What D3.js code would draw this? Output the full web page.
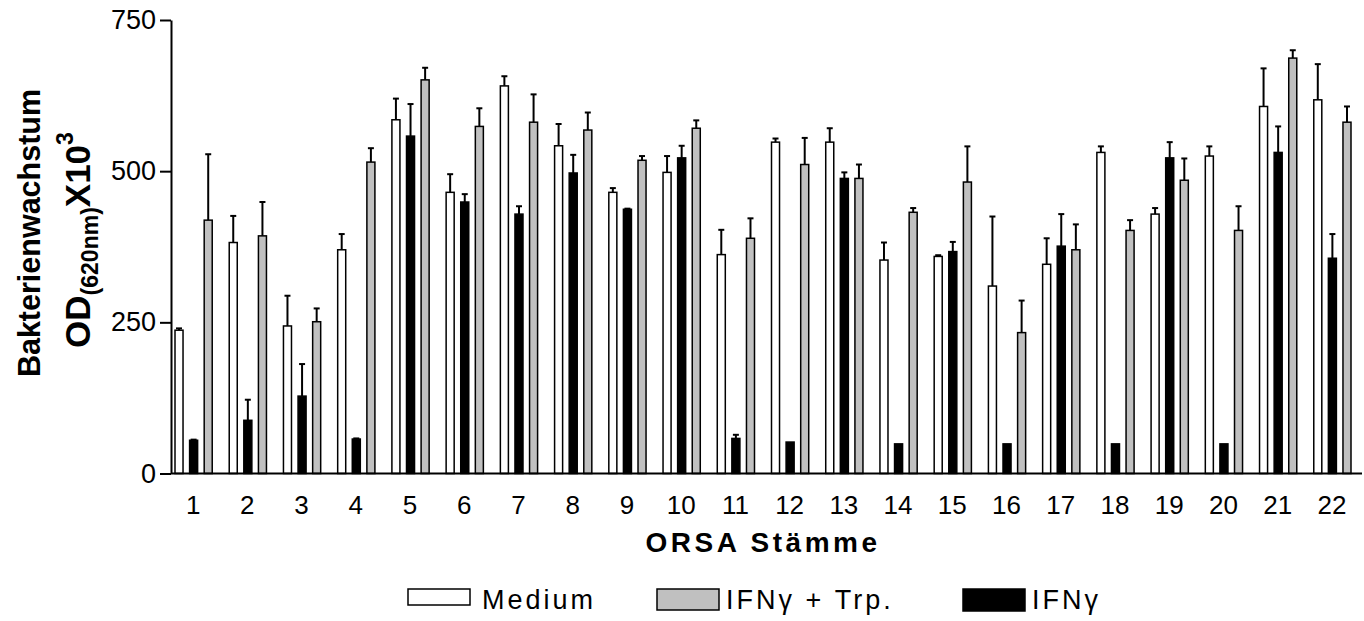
<!DOCTYPE html>
<html>
<head>
<meta charset="utf-8">
<script src="https://cdn.jsdelivr.net/npm/d3@7"></script>
<style>
  html, body { margin: 0; padding: 0; background: #fff; }
  svg { display: block; font-family: "Liberation Sans", Arial, sans-serif; }
</style>
</head>
<body>
<svg id="chart" width="1364" height="621"></svg>
<script>
// ORSA strains 1..22
const strains = ["1","2","3","4","5","6","7","8","9","10","11","12","13","14","15","16","17","18","19","20","21","22"];

// Bacterial growth, OD(620nm) x 10^3 — means
const medium  = [237, 382, 244, 370, 585, 465, 641, 542, 465, 498, 362, 548, 548, 353, 359, 310, 346, 531, 429, 525, 607, 618];
const ifng    = [55, 88, 128, 57, 558, 449, 429, 497, 437, 522, 58, 52, 488, 49, 367, 49, 376, 49, 522, 49, 531, 356];
const ifngTrp = [419, 393, 251, 515, 651, 574, 581, 568, 518, 571, 389, 511, 488, 432, 482, 233, 370, 402, 485, 402, 687, 581];

// Standard deviations (upper error bars)
const mediumErr  = [3, 44, 50, 26, 35, 30, 16, 36, 7, 27, 41, 6, 23, 29, 2, 115, 43, 10, 10, 16, 63, 59];
const ifngErr    = [1, 34, 53, 1, 53, 13, 13, 30, 1, 20, 6, 0, 10, 0, 16, 0, 53, 0, 26, 0, 43, 40];
const ifngTrpErr = [109, 56, 22, 23, 20, 30, 46, 29, 7, 13, 33, 44, 23, 7, 59, 53, 42, 17, 36, 40, 13, 26];

const yTicks = [0, 250, 500, 750];

// Bars in each group: Medium, IFNγ, IFNγ + Trp.
const series = [
  { key: "medium",  label: "Medium",      values: medium,  errs: mediumErr,  fill: "#ffffff" },
  { key: "ifng",    label: "IFNγ",        values: ifng,    errs: ifngErr,    fill: "#000000" },
  { key: "ifngTrp", label: "IFNγ + Trp.", values: ifngTrp, errs: ifngTrpErr, fill: "#c0c0c0" }
];
const legendOrder = ["medium", "ifngTrp", "ifng"];

const svg = d3.select("#chart");
const FONT = "\"Liberation Sans\", Arial, sans-serif";

const plot = { left: 171, right: 1362, top: 20, bottom: 473.5 };

const y = d3.scaleLinear().domain([0, 750]).range([plot.bottom, plot.top]);
const x = d3.scaleBand().domain(strains).range([166, 1359]).paddingInner(0).paddingOuter(0);
const xs = d3.scaleBand().domain(series.map(s => s.key))
  .range([9, x.bandwidth() - 8]).paddingInner(0.45).paddingOuter(0);

// Bars
const groups = svg.append("g").selectAll("g")
  .data(strains)
  .join("g")
  .attr("transform", d => `translate(${x(d)},0)`);

groups.each(function(strain, i) {
  const g = d3.select(this);
  series.forEach(s => {
    const v = s.values[i], e = s.errs[i];
    const bx = xs(s.key), bw = xs.bandwidth();
    const cx = bx + bw / 2;
    if (e > 0) {
      g.append("line")
        .attr("x1", cx).attr("x2", cx)
        .attr("y1", y(v)).attr("y2", y(v + e))
        .attr("stroke", "#000").attr("stroke-width", 2);
      g.append("line")
        .attr("x1", cx - 3).attr("x2", cx + 3)
        .attr("y1", y(v + e)).attr("y2", y(v + e))
        .attr("stroke", "#000").attr("stroke-width", 2);
    }
    g.append("rect")
      .attr("x", bx).attr("width", bw)
      .attr("y", y(v)).attr("height", y(0) - y(v))
      .attr("fill", s.fill)
      .attr("stroke", "#000").attr("stroke-width", 1.5);
  });
});

// Y axis
const yAxis = svg.append("g")
  .attr("transform", `translate(${plot.left},0)`)
  .call(d3.axisLeft(y).tickValues(yTicks).tickSize(11).tickSizeOuter(0).tickPadding(4));
yAxis.select(".domain").attr("stroke-width", 2);
yAxis.selectAll(".tick line").attr("stroke-width", 2);
yAxis.selectAll(".tick text")
  .attr("font-family", FONT).attr("font-size", 27).attr("fill", "#000");

// X axis baseline and strain labels
svg.append("line")
  .attr("x1", plot.left).attr("x2", plot.right)
  .attr("y1", y(0)).attr("y2", y(0))
  .attr("stroke", "#000").attr("stroke-width", 2);

const xAxis = svg.append("g")
  .attr("transform", `translate(0,${y(0)})`)
  .call(d3.axisBottom(x).tickSize(0).tickPadding(22));
xAxis.select(".domain").remove();
xAxis.selectAll(".tick text")
  .attr("font-family", FONT).attr("font-size", 26).attr("fill", "#000");

// X axis title
svg.append("text")
  .attr("x", 763).attr("y", 552)
  .attr("text-anchor", "middle")
  .attr("font-family", FONT).attr("font-size", 28).attr("font-weight", "bold")
  .attr("letter-spacing", 3.5)
  .text("ORSA Stämme");

// Y axis title (two lines)
svg.append("text")
  .attr("transform", "translate(40,233) rotate(-90)")
  .attr("text-anchor", "middle")
  .attr("font-family", FONT).attr("font-size", 30.5).attr("font-weight", "bold")
  .text("Bakterienwachstum");

const od = svg.append("text")
  .attr("transform", "translate(90,240) rotate(-90)")
  .attr("text-anchor", "middle")
  .attr("font-family", FONT).attr("font-size", 35).attr("font-weight", "bold");
od.append("tspan").text("OD");
od.append("tspan").attr("font-size", 23).attr("dy", 8).text("(620nm)");
od.append("tspan").attr("dy", -8).text("X10");
od.append("tspan").attr("font-size", 23).attr("dy", -17).text("3");

// Legend
const legendPos = {
  medium:  { x: 408, h: 16, tx: 482 },
  ifngTrp: { x: 657, h: 21, tx: 726 },
  ifng:    { x: 963, h: 22, tx: 1032 }
};
const legend = svg.append("g");
legendOrder.forEach(k => {
  const s = series.find(d => d.key === k);
  const p = legendPos[k];
  legend.append("rect")
    .attr("x", p.x).attr("y", 589).attr("width", 62).attr("height", p.h)
    .attr("fill", s.fill).attr("stroke", "#000").attr("stroke-width", 1.5);
  legend.append("text")
    .attr("x", p.tx).attr("y", 609)
    .attr("font-family", FONT).attr("font-size", 27).attr("letter-spacing", 3)
    .text(s.label);
});
</script>
</body>
</html>
